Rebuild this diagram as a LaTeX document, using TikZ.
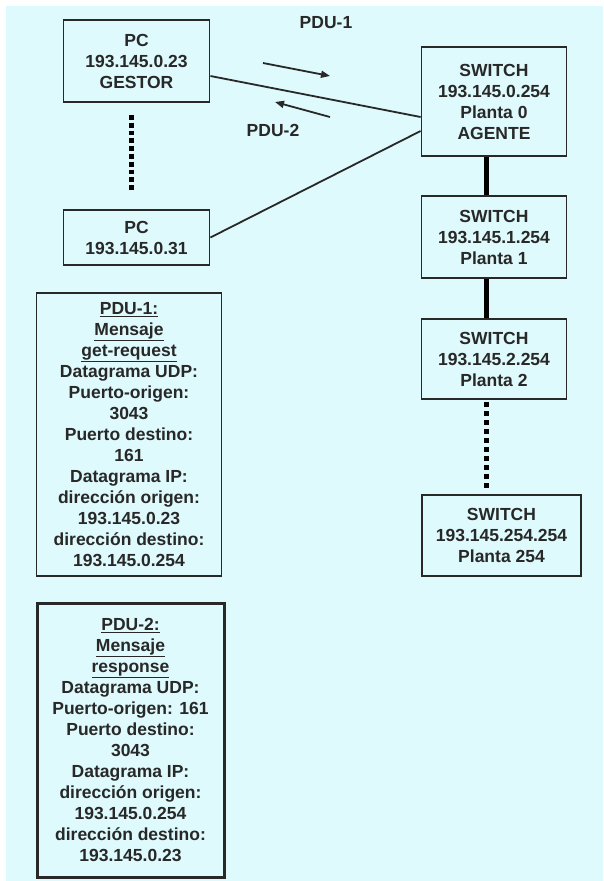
\documentclass[tikz,border=0pt]{standalone}
\usepackage{fontspec}
\setmainfont{Liberation Sans}
\usetikzlibrary{arrows.meta}
\definecolor{bgcyan}{RGB}{222,250,252}
\definecolor{ink}{RGB}{40,40,40}
\begin{document}
\begin{tikzpicture}[x=1pt,y=-1pt,
  box/.style={draw=ink,line width=1.8pt,rectangle,inner sep=0pt,align=center,
    text=ink,font=\fontsize{17.5}{21}\selectfont\bfseries},
  lbl/.style={text=ink,font=\fontsize{17.5}{21}\selectfont\bfseries,inner sep=0pt},
  link/.style={draw=ink,line width=1.8pt},
  trunk/.style={draw=black,line width=5.5pt},
  dots/.style={draw=black,line width=4.5pt,dash pattern=on 5pt off 4pt},
  finedots/.style={draw=black,line width=4.5pt,dash pattern=on 4.8pt off 3pt},
  flow/.style={draw=ink,line width=1.8pt,-{Triangle[length=9pt,width=7pt]}}]
\useasboundingbox (0,0) rectangle (603,881);
\fill[bgcyan] (6,6) rectangle (603,881);

% PCs
\node[box,minimum width=146pt,minimum height=82pt] (pc1) at (136.5,61) {PC\\193.145.0.23\\GESTOR};
\node[box,minimum width=146pt,minimum height=55pt] (pc2) at (136.5,237.5) {PC\\193.145.0.31};

% switches
\node[box,minimum width=145pt,minimum height=109pt] (sw0) at (494,101.5) {SWITCH\\193.145.0.254\\Planta 0\\AGENTE};
\node[box,minimum width=145pt,minimum height=82pt] (sw1) at (494,237) {SWITCH\\193.145.1.254\\Planta 1};
\node[box,minimum width=145pt,minimum height=80pt] (sw2) at (494,359) {SWITCH\\193.145.2.254\\Planta 2};
\node[box,minimum width=159pt,minimum height=81pt] (sw3) at (501.5,535.5) {SWITCH\\193.145.254.254\\Planta 254};

% PDU description boxes
\node[box,minimum width=185pt,minimum height=283pt] (pdu1) at (129,434.5)
 {\underline{PDU-1:}\\\underline{Mensaje}\\\underline{get-request}\\Datagrama UDP:\\Puerto-origen:\\3043\\Puerto destino:\\161\\Datagrama IP:\\dirección origen:\\193.145.0.23\\dirección destino:\\193.145.0.254};
\node[box,line width=3pt,minimum width=187pt,minimum height=274pt] (pdu2) at (130.5,740)
 {\underline{PDU-2:}\\\underline{Mensaje}\\\underline{response}\\Datagrama UDP:\\Puerto-origen: 161\\Puerto destino:\\3043\\Datagrama IP:\\dirección origen:\\193.145.0.254\\dirección destino:\\193.145.0.23};

% links
\draw[link] ([yshift=-15pt]pc1.east) -- ([yshift=-15.5pt]sw0.west);
\draw[link] (pc2.east) -- ([yshift=-29.5pt]sw0.west);
\draw[finedots] ([xshift=-5pt,yshift=-12pt]pc1.south) -- ([xshift=-5pt,yshift=17pt]pc2.north);
\draw[trunk] ([xshift=-7.5pt]sw0.south) -- ([xshift=-7.5pt]sw1.north);
\draw[trunk] ([xshift=-7.5pt]sw1.south) -- ([xshift=-7.5pt]sw2.north);
\draw[dots] ([xshift=-7.5pt,yshift=-2pt]sw2.south) -- ([xshift=-15pt,yshift=6pt]sw3.north);

% PDU flow arrows
\coordinate (a1s) at (263,63);
\coordinate (a1e) at (330,76);
\coordinate (a2s) at (330,117);
\coordinate (a2e) at (275,102);
\draw[flow] (a1s) -- (a1e);
\draw[flow] (a2s) -- (a2e);
\node[lbl] (l1) at (326,23) {PDU-1};
\node[lbl] (l2) at (273,130) {PDU-2};
\end{tikzpicture}
\end{document}
